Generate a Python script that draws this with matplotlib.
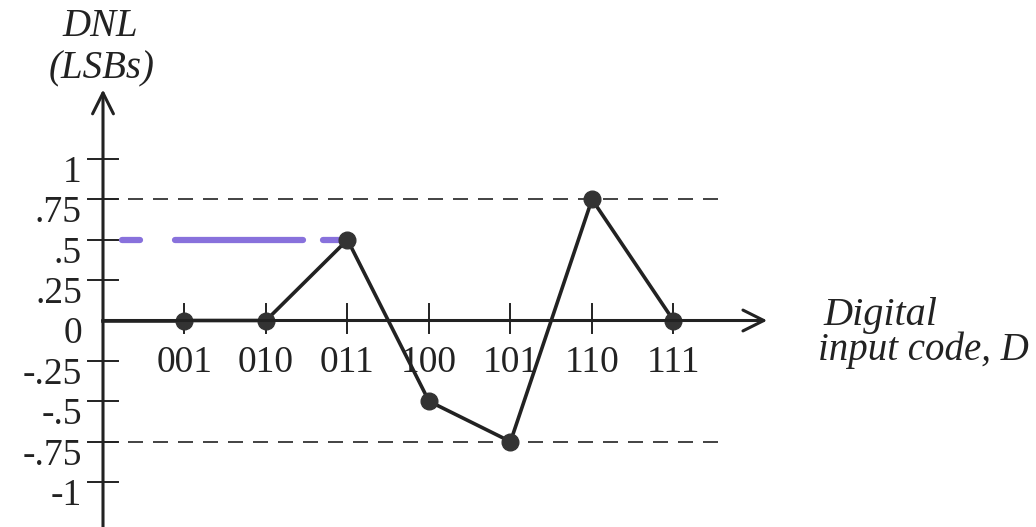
import matplotlib
matplotlib.use("Agg")
import matplotlib.pyplot as plt

# DNL per digital input code (LSBs)
codes = ["001", "010", "011", "100", "101", "110", "111"]
dnl = [0, 0, 0.5, -0.5, -0.75, 0.75, 0]
ytick_vals = [1, 0.75, 0.5, 0.25, 0, -0.25, -0.5, -0.75, -1]
ytick_labels = ["1", ".75", ".5", ".25", "0", "-.25", "-.5", "-.75", "-1"]
limit = 0.75
# hand-drawn purple highlight at +0.5 (start, end in code units)
highlight = [(0.23, 0.45), (0.88, 2.45), (2.70, 2.91)]
highlight_y = 0.5

ink = "#222222"
plt.rcParams["font.family"] = ["Liberation Serif", "DejaVu Serif"]

fig = plt.figure(figsize=(10.36, 5.27), dpi=100)
ax = fig.add_axes([0, 0, 1, 1])
ax.set_xlim(-1.2638, 11.448)
ax.set_ylim(-1.2786, 1.9845)
ax.axis("off")

# axes with arrows
ax.annotate("", xy=(0, 1.43), xytext=(0, -1.3),
            arrowprops=dict(arrowstyle="->,head_length=1.5,head_width=0.75",
                            lw=2.2, color=ink, shrinkA=0, shrinkB=0))
ax.annotate("", xy=(8.15, 0), xytext=(0, 0),
            arrowprops=dict(arrowstyle="->,head_length=1.5,head_width=0.75",
                            lw=2.2, color=ink, shrinkA=0, shrinkB=0))

# y ticks
for v, lab in zip(ytick_vals, ytick_labels):
    if v != 0:
        ax.plot([-0.18, 0.18], [v, v], color=ink, lw=1.4)
    ax.text(-0.258, v - 0.142, lab, ha="right", va="baseline", fontsize=27, color=ink)

# x ticks
xs = list(range(1, len(codes) + 1))
for x, lab in zip(xs, codes):
    ax.plot([x, x], [-0.075, 0.1], color=ink, lw=1.4)
    ax.text(x, -0.319, lab, ha="center", va="baseline", fontsize=27, color=ink)

# +/- 0.75 LSB limits
for v in (limit, -limit):
    ax.plot([0, 7.55], [v, v], color=ink, lw=1.2, dashes=(9, 6))

# purple highlight
for a, b in highlight:
    ax.plot([a, b], [highlight_y, highlight_y], color="#7b62d9", lw=4.5,
            solid_capstyle="round", alpha=0.9)

# data
ax.plot([0, 1], [0, 0], color=ink, lw=2.6)
ax.plot(xs, dnl, color=ink, lw=2.6, marker="o", markersize=12,
        markerfacecolor="#333333", markeredgecolor="#333333")

# axis labels
ax.text(-0.037, 1.762, "DNL", ha="center", va="baseline", fontsize=28,
        style="italic", color=ink)
ax.text(-0.012, 1.502, "(LSBs)", ha="center", va="baseline", fontsize=28,
        style="italic", color=ink)
ax.text(8.834, -0.028, "Digital", ha="left", va="baseline", fontsize=29,
        style="italic", color=ink)
ax.text(8.773, -0.245, "input code, D", ha="left", va="baseline", fontsize=28,
        style="italic", color=ink)

fig.savefig("out.png", dpi=100)
